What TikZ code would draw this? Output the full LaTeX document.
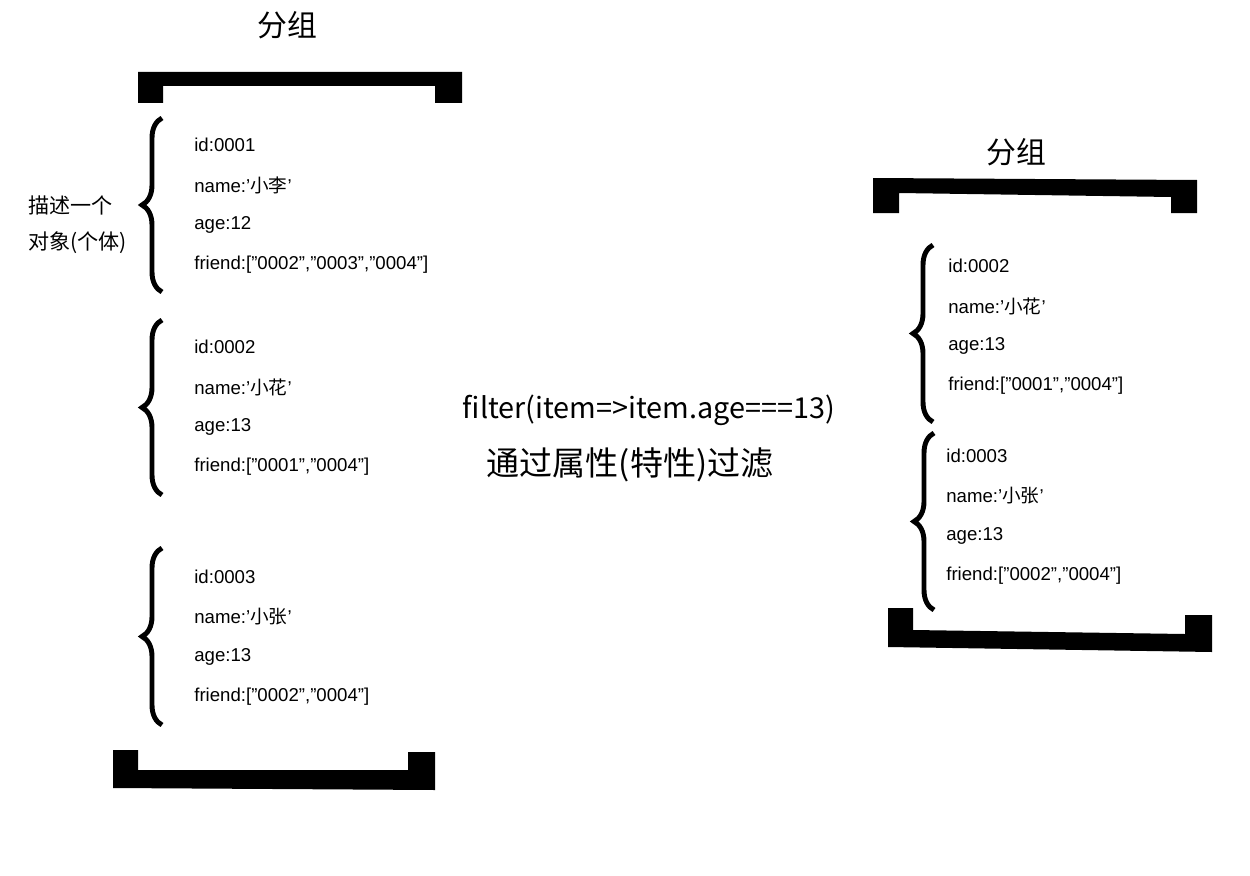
\documentclass[tikz,border=0pt]{standalone}
\usepackage{fontspec}
\setmainfont{Liberation Sans}
\newfontfamily\cjk{Noto Sans CJK SC}
\usetikzlibrary{decorations.pathreplacing}

\begin{document}
\begin{tikzpicture}[x=0.02cm,y=-0.02cm,
    field/.style={anchor=west,inner sep=0pt,font=\fontsize{10.6}{12}\selectfont},
    object/.style={line width=2.8pt,decorate,decoration={brace,amplitude=0.4cm}},
    title/.style={font=\cjk\fontsize{17}{20}\selectfont}]
  \useasboundingbox (0,0) rectangle (1250,875);

  % left group
  \node [title] (gleft) at (287,25) {分组};
  \fill (138,72) -- (462,72) -- (462,103) -- (435,103) -- (435,86) -- (163,86) -- (163,103) -- (138,103) -- cycle;
  \fill (113,750) -- (138,750) -- (138,770) -- (408,770) -- (408,752) -- (435,752) -- (435,790) -- (113,788) -- cycle;

  \node [anchor=west,inner sep=0pt,font=\cjk\fontsize{12}{14}\selectfont] (desc1) at (28,205) {描述一个};
  \node [anchor=west,inner sep=0pt,font=\cjk\fontsize{12}{14}\selectfont] (desc2) at (28,243) {对象(个体)};

  \draw [object] (162,292) -- (162,118);
  \node [field] (li1) at (194,145) {id:0001};
  \node [field] (li2) at (194,185) {name:’{\cjk 小李}’};
  \node [field] (li3) at (194,225) {age:12};
  \node [field] (li4) at (194,265) {friend:[”0002”,”0003”,”0004”]};

  \draw [object] (162,495) -- (162,320);
  \node [field] (hua1) at (194,347) {id:0002};
  \node [field] (hua2) at (194,387) {name:’{\cjk 小花}’};
  \node [field] (hua3) at (194,427) {age:13};
  \node [field] (hua4) at (194,467) {friend:[”0001”,”0004”]};

  \draw [object] (162,725) -- (162,548);
  \node [field] (zhang1) at (194,577) {id:0003};
  \node [field] (zhang2) at (194,617) {name:’{\cjk 小张}’};
  \node [field] (zhang3) at (194,657) {age:13};
  \node [field] (zhang4) at (194,697) {friend:[”0002”,”0004”]};

  % filter
  \node [font=\cjk\fontsize{16.4}{20}\selectfont] (filter) at (649,410) {filter(item=>item.age===13)};
  \node [font=\cjk\fontsize{18.8}{22}\selectfont] (note) at (630,465) {通过属性(特性)过滤};

  % right group
  \node [title] (gright) at (1016,152) {分组};
  \fill (873,178) -- (1197,180) -- (1197,213) -- (1171,213) -- (1171,197) -- (899,193) -- (899,213) -- (873,213) -- cycle;
  \fill (888,608) -- (913,608) -- (913,630) -- (1185,634) -- (1185,615) -- (1212,615) -- (1212,652) -- (888,647) -- cycle;

  \draw [object] (933,422) -- (933,245);
  \node [field] (rhua1) at (948,266) {id:0002};
  \node [field] (rhua2) at (948,306) {name:’{\cjk 小花}’};
  \node [field] (rhua3) at (948,346) {age:13};
  \node [field] (rhua4) at (948,386) {friend:[”0001”,”0004”]};

  \draw [object] (934,610) -- (934,433);
  \node [field] (rzhang1) at (946,456) {id:0003};
  \node [field] (rzhang2) at (946,496) {name:’{\cjk 小张}’};
  \node [field] (rzhang3) at (946,536) {age:13};
  \node [field] (rzhang4) at (946,576) {friend:[”0002”,”0004”]};
\end{tikzpicture}
\end{document}
